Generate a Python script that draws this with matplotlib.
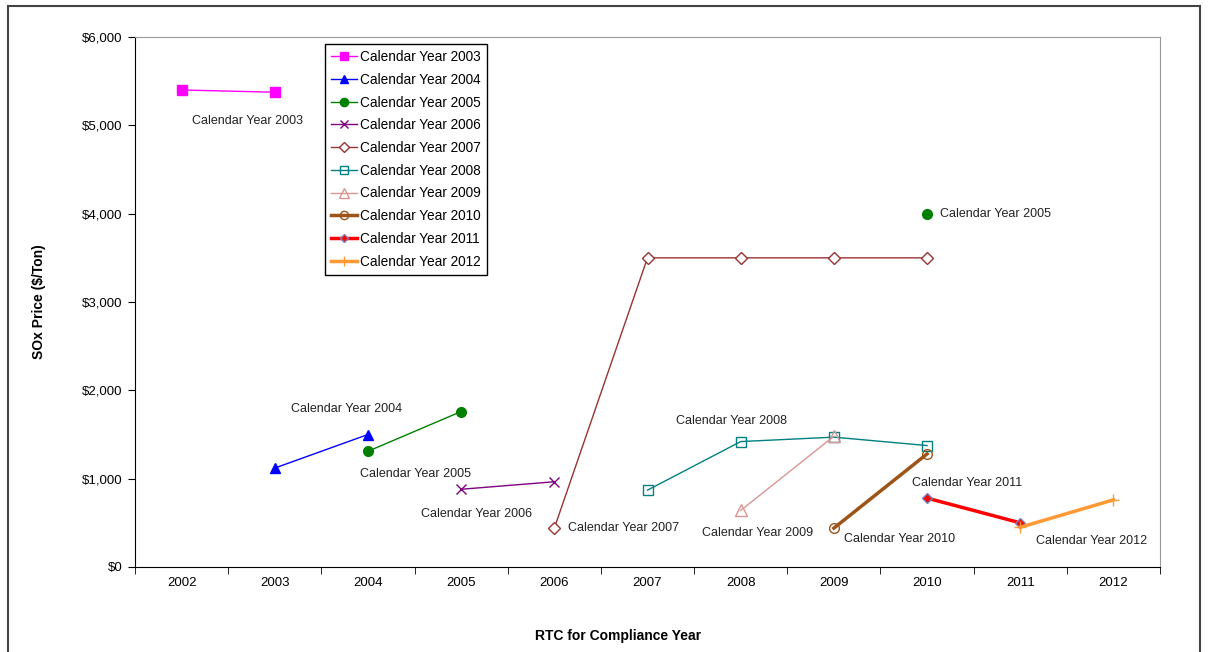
import matplotlib.pyplot as plt
import matplotlib.patches as mpatches

plt.rcParams['font.family'] = ['Liberation Sans', 'DejaVu Sans']

years = ['2002', '2003', '2004', '2005', '2006', '2007', '2008', '2009', '2010', '2011', '2012']

# serie: categorias y precios
cy2003_x = ['2002', '2003']
cy2003_y = [5400, 5375]
cy2004_x = ['2003', '2004']
cy2004_y = [1120, 1500]
cy2005_x = ['2004', '2005']
cy2005_y = [1310, 1760]
cy2005_extra_x = ['2010']
cy2005_extra_y = [4000]
cy2006_x = ['2005', '2006']
cy2006_y = [880, 965]
cy2007_x = ['2006', '2007', '2008', '2009', '2010']
cy2007_y = [440, 3500, 3500, 3500, 3500]
cy2008_x = ['2007', '2008', '2009', '2010']
cy2008_y = [870, 1420, 1470, 1375]
cy2009_x = ['2008', '2009']
cy2009_y = [640, 1480]
cy2010_x = ['2009', '2010']
cy2010_y = [440, 1280]
cy2011_x = ['2010', '2011']
cy2011_y = [780, 500]
cy2012_x = ['2011', '2012']
cy2012_y = [450, 760]

pos = {y: i for i, y in enumerate(years)}

fig = plt.figure(figsize=(12.09, 6.52), dpi=100)
ax = fig.add_axes([135 / 1209, 1 - 567 / 652, 1025 / 1209, 530 / 652])


def serie(xs, ys, label, color, marker, lw=1.0, ms=7, mfc=None, mec=None, mew=1.0):
    xx = [pos[x] for x in xs]
    return ax.plot(xx, ys, color=color, lw=lw, marker=marker, ms=ms,
                   mfc=mfc if mfc else color, mec=mec if mec else color,
                   mew=mew, label=label)[0]


serie(cy2003_x, cy2003_y, 'Calendar Year 2003', '#FF00FF', 's', ms=7)
serie(cy2004_x, cy2004_y, 'Calendar Year 2004', '#0000FF', '^', ms=7)
serie(cy2005_x, cy2005_y, 'Calendar Year 2005', '#008000', 'o', ms=7)
ax.plot([pos[x] for x in cy2005_extra_x], cy2005_extra_y, ls='none', marker='o', ms=7, color='#008000')
serie(cy2006_x, cy2006_y, 'Calendar Year 2006', '#800080', 'x', ms=7)
serie(cy2007_x, cy2007_y, 'Calendar Year 2007', '#993333', 'D', ms=6, mfc='white')
serie(cy2008_x, cy2008_y, 'Calendar Year 2008', '#008080', 's', ms=7, mfc='none')
serie(cy2009_x, cy2009_y, 'Calendar Year 2009', '#D99694', '^', ms=8, mfc='none')
serie(cy2010_x, cy2010_y, 'Calendar Year 2010', '#9C5418', 'o', lw=2.5, ms=7, mfc='none')
serie(cy2011_x, cy2011_y, 'Calendar Year 2011', '#FF0000', 'D', lw=2.5, ms=5, mec='#8080C0')
serie(cy2012_x, cy2012_y, 'Calendar Year 2012', '#FF9933', '+', lw=2.5, ms=9)

# etiquetas de datos (desplazamiento en pixeles desde el punto)
etiquetas = [
    ('Calendar Year 2003', '2003', 5375, -27, -29, 'center'),
    ('Calendar Year 2004', '2004', 1500, -21, 26, 'center'),
    ('Calendar Year 2005', '2005', 1760, -46, -62, 'center'),
    ('Calendar Year 2005', '2010', 4000, 13, 0, 'left'),
    ('Calendar Year 2006', '2006', 965, -78, -32, 'center'),
    ('Calendar Year 2007', '2006', 440, 14, 0, 'left'),
    ('Calendar Year 2008', '2008', 1420, -9, 21, 'center'),
    ('Calendar Year 2009', '2009', 1480, -76, -97, 'center'),
    ('Calendar Year 2010', '2010', 1280, -27, -85, 'center'),
    ('Calendar Year 2011', '2011', 500, -53, 40, 'center'),
    ('Calendar Year 2012', '2012', 760, -22, -41, 'center'),
]
for txt, xc, yv, dx, dy, ha in etiquetas:
    ax.annotate(txt, (pos[xc], yv), xytext=(dx, dy), textcoords='offset pixels',
                ha=ha, va='center', fontsize=9, color='#222222')

ax.set_xlim(-0.5, len(years) - 0.5)
ax.set_ylim(0, 6000)
ax.set_yticks(range(0, 6001, 1000))
ax.set_yticklabels(['${:,}'.format(v) for v in range(0, 6001, 1000)])
ax.set_xticks(range(len(years)))
ax.set_xticklabels(years)
ax.set_xticks([i - 0.5 for i in range(len(years) + 1)], minor=True)
ax.tick_params(axis='x', which='major', length=0, pad=7, labelsize=9.5)
ax.tick_params(axis='x', which='minor', length=5, direction='out')
ax.tick_params(axis='y', length=5, direction='out', pad=4, labelsize=9.5)

for s in ['top', 'right']:
    ax.spines[s].set_color('#999999')
for s in ['left', 'bottom']:
    ax.spines[s].set_color('black')

ax.set_ylabel('SOx Price ($/Ton)', fontsize=10, fontweight='bold', labelpad=26)
ax.set_xlabel('RTC for Compliance Year', fontsize=10, fontweight='bold')
ax.xaxis.set_label_coords((618 - 135) / 1025, -(629 - 567) / 530)

leg = ax.legend(loc='upper left', bbox_to_anchor=((325 - 135) / 1025, (567 - 44) / 530),
                borderaxespad=0, fontsize=9.8, handlelength=1.9, handletextpad=0.25,
                labelspacing=0.64, borderpad=0.45, fancybox=False, framealpha=1,
                markerscale=0.85)
leg.get_frame().set_edgecolor('black')
leg.get_frame().set_linewidth(1.0)

# marco exterior
fig.patches.append(mpatches.Rectangle((8 / 1209, -0.05), 1192 / 1209, 1.05 - 6 / 652,
                                      transform=fig.transFigure, fill=False,
                                      edgecolor='#444444', lw=1.5, clip_on=False))

fig.savefig('out.png', dpi=100)
